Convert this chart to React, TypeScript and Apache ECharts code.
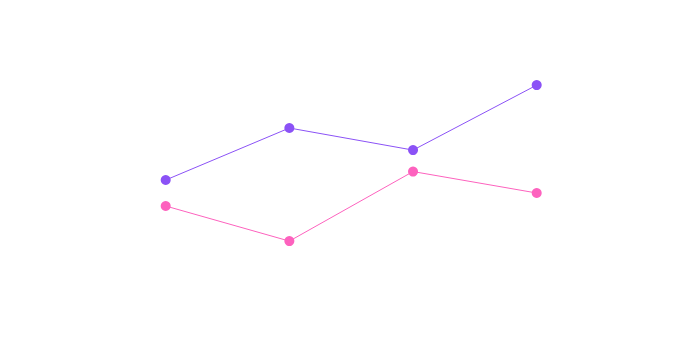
import React, { useEffect, useRef } from "react";
import * as echarts from "echarts";

const categories = ["A", "B", "C", "D"];
const seriesPurple = [120, 200, 166, 266];
const seriesPink = [80, 26, 133, 100];
const yMin = 0;
const yMax = 300;

export default function App() {
  const ref = useRef<HTMLDivElement>(null);
  useEffect(() => {
    if (!ref.current) return;
    const chart = echarts.init(ref.current, null, { renderer: "svg" });
    chart.setOption({
      animation: false,
      backgroundColor: "#ffffff",
      grid: { left: 165.7, width: 371, top: 63, height: 195 },
      xAxis: {
        type: "category",
        data: categories,
        boundaryGap: false,
        show: false,
      },
      yAxis: {
        type: "value",
        min: yMin,
        max: yMax,
        show: false,
      },
      series: [
        {
          name: "Purple",
          type: "line",
          data: seriesPurple,
          symbol: "circle",
          symbolSize: 10,
          lineStyle: { color: "#8b52f6", width: 1 },
          itemStyle: { color: "#8b52f6" },
        },
        {
          name: "Pink",
          type: "line",
          data: seriesPink,
          symbol: "circle",
          symbolSize: 10,
          lineStyle: { color: "#fd62be", width: 1 },
          itemStyle: { color: "#fd62be" },
        },
      ],
    });
    return () => chart.dispose();
  }, []);
  return (
    <div
      ref={ref}
      style={{ position: "fixed", left: 0, top: 0, width: 677, height: 358 }}
    />
  );
}
